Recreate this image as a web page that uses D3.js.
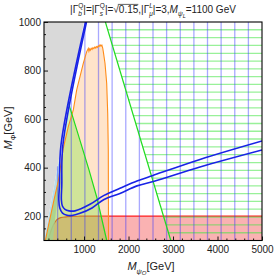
<!DOCTYPE html>
<html><head><meta charset="utf-8">
<script src="https://cdn.jsdelivr.net/npm/d3@7"></script>
<style>body{margin:0;background:#fff}svg{display:block;font-family:"Liberation Sans",Arial,sans-serif}</style>
</head><body><svg id="c" width="274" height="275"></svg>
<script>
// ---------- data ----------
const xDomain = [100, 5000];
const yDomain = [100, 1000];
const xTicks = [1000, 2000, 3000, 4000, 5000];
const xMinor = [200,400,600,800,1200,1400,1600,1800,2200,2400,2600,2800,3200,3400,3600,3800,4200,4400,4600,4800];
const yTicks = [200, 400, 600, 800, 1000];
const yMinor = [150,250,300,350,450,500,550,650,700,750,850,900,950];

const grayRegion = [[100,100],[1000,1000],[100,1000]];
const cyanBand = [[100,100],[650,650],[560,560],[470,440],[400,270],[300,100]];
const redBoundary = [[190,100],[251,137],[310,164],[385,185],[475,194],[624,198],[909,200],[5000,200]];
const orangeBoundary = [[130,100],[212,172],[325,267],[426,350],[534,481],[646,569],[759,638],[835,720],[909,775],[983,830],[1060,878],
  [1096,891],[1110,880],[1125,889],[1140,884],[1160,892],[1180,887],[1200,894],[1220,890],[1245,897],[1265,893],[1285,899],[1305,896],
  [1320,902],[1340,899],[1360,906],[1380,901],[1400,905],[1420,892],[1433,878],[1471,830],[1509,748],[1532,624],[1545,473],[1550,100]];
const greenLineA = [[1480,1000],[2950,100]];
const greenLineB = [[650,668],[684,646],[871,535],[1111,391],[1291,275],[1510,100]];
const greenRegionLeft = [[130,100],[212,172],[325,267],[426,350],[534,481],[600,580]];
const blueOuter = [[1033,1000],[482,494],[448,329],[433,267],[455,234],[516,213],[617,204],[729,203],[909,212],[1179,234],[1449,269],[1808,294],[2190,325],[2595,345],[3606,403],[5000,473]];
const blueInner = [[1055,1000],[525,494],[500,329],[491,267],[514,242],[572,228],[662,222],[797,222],[1134,249],[1449,286],[1808,315],[2190,345],[2550,368],[3606,434],[5000,510]];
const vMesh = [406,713,1019,1325,1631,1938,2244,2550,2856,3163,3469,3775,4081,4388,4694];
const hMesh = [132,164,196,229,261,293,325,357,389,421,454,486,518,550,582,614,646,679,711,743,775,807,839,871,904,936,968];

// ---------- drawing ----------
const svg = d3.select('#c');
const L = 44, R = 262, T = 22, B = 240.5;
const x = d3.scaleLinear().domain(xDomain).range([L, R]);
const y = d3.scaleLinear().domain(yDomain).range([B, T]);
const line = d3.line().x(d => x(d[0])).y(d => y(d[1]));
const smooth = d3.line().x(d => x(d[0])).y(d => y(d[1])).curve(d3.curveCatmullRom.alpha(0.5));

svg.append('defs').append('clipPath').attr('id','pc').append('rect')
  .attr('x', L).attr('y', T).attr('width', R - L).attr('height', B - T);
const g = svg.append('g').attr('clip-path','url(#pc)');

// red region
g.append('path').attr('d', line(redBoundary.concat([[5000,100]])) + 'Z')
  .attr('fill','rgb(240,0,0)').attr('fill-opacity',0.3);
g.append('path').attr('d', smooth(redBoundary)).attr('fill','none').attr('stroke','#ff1a1a').attr('stroke-width',1.2);
// cyan band
g.append('path').attr('d', line(cyanBand) + 'Z').attr('fill','#a9d8ea').attr('fill-opacity',0.85);
// orange region
g.append('path').attr('d', line(orangeBoundary) + 'Z').attr('fill','rgb(255,165,80)').attr('fill-opacity',0.3);
// green region
g.append('path').attr('d', line(greenLineB.concat(greenRegionLeft)) + 'Z').attr('fill','rgb(100,230,40)').attr('fill-opacity',0.3);
// gray region
g.append('path').attr('d', line(grayRegion) + 'Z').attr('fill','#d9d9d9');

// horizontal green mesh right of green line A
const xA = d3.scaleLinear().domain([greenLineA[0][1], greenLineA[1][1]]).range([greenLineA[0][0], greenLineA[1][0]]);
g.selectAll('line.h').data(hMesh).join('line').attr('class','h')
  .attr('x1', d => x(xA(d))).attr('x2', x(5000)).attr('y1', d => y(d)).attr('y2', d => y(d))
  .attr('stroke','rgb(70,230,70)').attr('stroke-opacity',0.55).attr('stroke-width',1.3);
// vertical blue mesh right of diagonal
g.selectAll('line.v').data(vMesh).join('line').attr('class','v')
  .attr('x1', d => x(d)).attr('x2', d => x(d)).attr('y1', y(100)).attr('y2', d => y(Math.min(1000, d)))
  .attr('stroke','rgb(50,50,255)').attr('stroke-opacity',0.42).attr('stroke-width',1.3);

// orange line
g.append('path').attr('d', line(orangeBoundary)).attr('fill','none').attr('stroke','#ff8c1a').attr('stroke-width',1.1);
// green lines
[greenLineA, greenLineB].forEach(p => g.append('path').attr('d', line(p)).attr('fill','none')
  .attr('stroke','#1fdc1f').attr('stroke-width',1.2));
// blue curves
[blueOuter, blueInner].forEach(p => g.append('path').attr('d', smooth(p)).attr('fill','none')
  .attr('stroke','rgb(25,35,230)').attr('stroke-width',1.6));

// frame
svg.append('rect').attr('x', L).attr('y', T).attr('width', R - L).attr('height', B - T)
  .attr('fill','none').attr('stroke','#000').attr('stroke-width',1.1);

// axes
const ax = svg.append('g').attr('transform', `translate(0,${B})`)
  .call(d3.axisBottom(x).tickValues(xTicks).tickSizeInner(-4).tickSizeOuter(0).tickPadding(5).tickFormat(d3.format('d')));
const axm = svg.append('g').attr('transform', `translate(0,${B})`)
  .call(d3.axisBottom(x).tickValues(xMinor).tickSizeInner(-2).tickSizeOuter(0).tickFormat(''));
const ay = svg.append('g').attr('transform', `translate(${L},0)`)
  .call(d3.axisLeft(y).tickValues(yTicks).tickSizeInner(-4).tickSizeOuter(0).tickPadding(3).tickFormat(d3.format('d')));
const aym = svg.append('g').attr('transform', `translate(${L},0)`)
  .call(d3.axisLeft(y).tickValues(yMinor).tickSizeInner(-2).tickSizeOuter(0).tickFormat(''));
[ax, axm, ay, aym].forEach(a => { a.select('.domain').remove(); a.selectAll('line').attr('stroke','#000').attr('stroke-width',0.9);
  a.selectAll('text').attr('font-size',10).attr('fill','#222').attr('font-family','"Liberation Sans",Arial,sans-serif'); });

// rich text helper
function rich(parent, segs, size) {
  const gg = parent.append('g');
  let cx = 0, lastStart = 0;
  segs.forEach(s => {
    const fs = (s.sup || s.sub) ? size * 0.65 : s.subsub ? size * 0.55 : size;
    const dy = s.sup ? -size * 0.47 : s.sub ? size * 0.33 : s.subsub ? size * 0.48 : 0;
    const sx = s.stack ? lastStart : cx;
    const t = gg.append('text').attr('x', sx).attr('y', dy).attr('font-size', fs).attr('fill','#222')
      .attr('font-style', s.italic ? 'italic' : null).text(s.t);
    const w = t.node().getComputedTextLength();
    if (s.over) gg.append('line').attr('x1', sx - 1).attr('x2', sx + w).attr('y1', -size * 0.86).attr('y2', -size * 0.86)
      .attr('stroke','#222').attr('stroke-width',0.7);
    if (s.stack) cx = Math.max(cx, sx + w); else { lastStart = sx; cx = sx + w; }
  });
  gg.selectAll('*').attr('transform', `translate(${-cx / 2},0)`);
  return gg;
}

// title
const title = svg.append('g').attr('transform','translate(153,13)');
rich(title, [
  {t:'|Γ'}, {t:'Q', sup:true}, {t:'b', sub:true, stack:true, italic:true},
  {t:'|=|Γ'}, {t:'Q', sup:true}, {t:'s', sub:true, stack:true, italic:true},
  {t:'|= '}, {t:'√'}, {t:'0.15', over:true},
  {t:' ,|Γ'}, {t:'L', sup:true, italic:true}, {t:'μ', sub:true, stack:true, italic:true},
  {t:'|=3,'}, {t:'M', italic:true}, {t:'ψ', sub:true, italic:true}, {t:'L', subsub:true, italic:true},
  {t:'=1100 GeV'}
], 10);

// x title
const xt = svg.append('g').attr('transform','translate(151,270)');
rich(xt, [{t:'M', italic:true}, {t:'ψ', sub:true, italic:true}, {t:'Q', subsub:true, italic:true}, {t:'[GeV]'}], 11);
// y title
const yt = svg.append('g').attr('transform','translate(12,128) rotate(-90)');
rich(yt, [{t:'M', italic:true}, {t:'Φ', sub:true}, {t:'[GeV]'}], 11);
</script></body></html>
